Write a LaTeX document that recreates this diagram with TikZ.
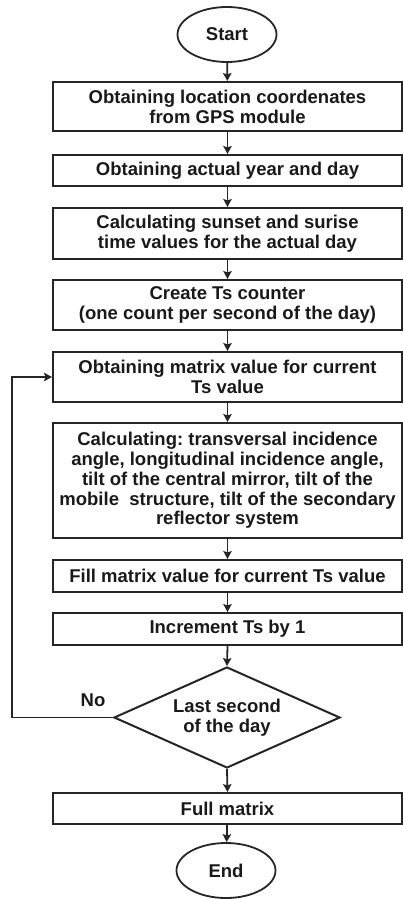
\documentclass[tikz,border=0pt]{standalone}
\usepackage{fontspec}
\setmainfont{Liberation Sans}
\usetikzlibrary{shapes.geometric,arrows.meta}
\frenchspacing
\tikzset{
  every node/.style={font=\bfseries\fontsize{18.5}{19.8}\selectfont, text=black!90},
  procbox/.style={draw=black!85, line width=2pt, rectangle, minimum width=349pt, inner sep=0pt, align=center},
  terminal/.style={draw=black!85, line width=1.8pt, ellipse, inner sep=0pt, minimum width=99pt, minimum height=55pt},
  decision/.style={draw=black!85, line width=2pt, diamond, inner sep=0pt, aspect=2.24, minimum width=226pt, minimum height=101pt, align=center},
  flow/.style={draw=black!85, line width=1.8pt, -{Stealth[length=8pt,width=8.5pt,inset=1.5pt]}},
}
\begin{document}
\begin{tikzpicture}[x=1pt,y=1pt]
\useasboundingbox (0,0) rectangle (403,-899);
% terminals
\node[terminal] (start) at (227,-34.5) {Start};
\node[terminal] (end) at (226,-870.5) {End};
% process steps
\node[procbox, minimum height=49pt] (gps) at (227.5,-106.5) {Obtaining location coordenates\\from GPS module};
\node[procbox, minimum height=31pt] (year) at (227.5,-170.5) {Obtaining actual year and day};
\node[procbox, minimum height=51pt] (sun) at (227.5,-233.5) {Calculating sunset and surise\\time values for the actual day};
\node[procbox, minimum height=50pt] (cnt) at (227.5,-305) {Create Ts counter\\(one count per second of the day)};
\node[procbox, minimum height=50pt] (get) at (227.5,-377) {Obtaining matrix value for current\\Ts value};
\node[procbox, minimum height=115pt] (calc) at (227.5,-480.5) {Calculating: transversal incidence\\angle, longitudinal incidence angle,\\tilt of the central mirror, tilt of the\\mobile\ \ structure, tilt of the secondary\\reflector system};
\node[procbox, minimum height=32pt] (fill) at (227.5,-576) {Fill matrix value for current Ts value};
\node[procbox, minimum height=32pt] (inc) at (227.5,-629) {Increment Ts by 1};
\node[decision] (last) at (227,-717.5) {Last second\\of the day};
\node[procbox, minimum height=31pt] (full) at (227.5,-808.5) {Full matrix};
% loop label
\node (no) at (93,-700) {No};
% connectors
\draw[flow] (start) -- (gps);
\draw[flow] (gps) -- (year);
\draw[flow] (year) -- (sun);
\draw[flow] (sun) -- (cnt);
\draw[flow] (cnt) -- (get);
\draw[flow] (get) -- (calc);
\draw[flow] (calc) -- (fill);
\draw[flow] (fill) -- (inc);
\draw[flow] (inc.south) -- (last.north);
\draw[flow] (last.south) -- (full.north);
\draw[flow] (full) -- (end);
\coordinate (loopx) at (12,0);
\draw[flow] (last.west) -| (loopx |- get.west) -- (get.west);
\end{tikzpicture}
\end{document}
